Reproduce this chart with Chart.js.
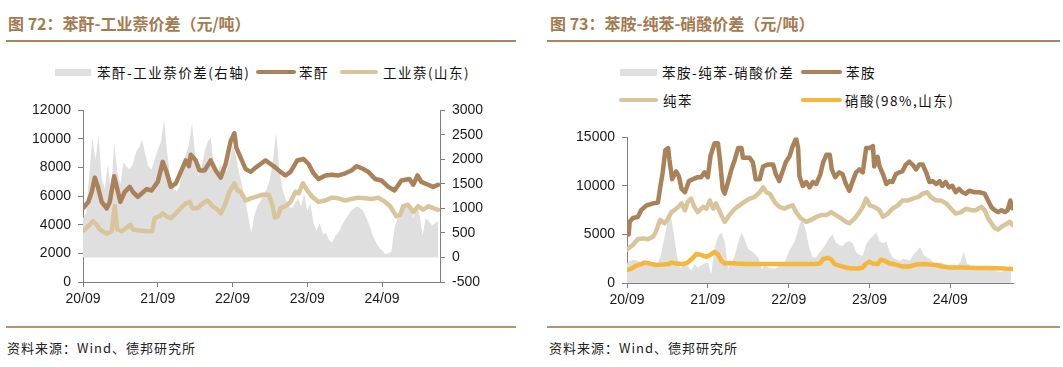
<!DOCTYPE html>
<html>
<head>
<meta charset="utf-8">
<script src="https://cdn.jsdelivr.net/npm/chart.js@4/dist/chart.umd.min.js"></script>
<style>
    body { margin: 0; width: 1063px; height: 367px; background: #fff; position: relative; overflow: hidden;
           font-family: "Noto Sans CJK SC", "Liberation Sans", sans-serif; }
    .titulo { position: absolute; top: 11px; font-size: 16px; font-weight: bold; color: #A47A50; white-space: nowrap; }
    .regla { position: absolute; height: 2px; background: #A88462; }
    .pie { position: absolute; top: 338px; font-size: 13px; letter-spacing: 1px; color: #222; white-space: nowrap; }
    .ley { position: absolute; font-size: 13.5px; letter-spacing: 1.5px; color: #111; white-space: nowrap; line-height: 18px; }
    .marca { position: absolute; }
    canvas { position: absolute; }
</style>
</head>
<body>
<div class="titulo" style="left:8px">图 72：苯酐-工业萘价差（元/吨）</div>
<div class="titulo" style="left:550px">图 73：苯胺-纯苯-硝酸价差（元/吨）</div>
<div class="regla" style="left:6px; width:510px; top:40px"></div>
<div class="regla" style="left:547px; width:513px; top:40px"></div>

<div id="leyenda"></div>

<canvas id="chartPA" width="520" height="225" style="left:0px; top:95px"></canvas>
<canvas id="chartAN" width="500" height="200" style="left:530px; top:122px"></canvas>

<div class="regla" style="left:6px; width:510px; top:326px; background:#B49273"></div>
<div class="regla" style="left:547px; width:513px; top:326px; background:#B49273"></div>
<div class="pie" style="left:7px">资料来源：Wind、德邦研究所</div>
<div class="pie" style="left:549px">资料来源：Wind、德邦研究所</div>

<script>
// 横轴: 自 2020/09 起的月数
var xTickMonths = [0, 12, 24, 36, 48];
var xTickLabels = ['20/09', '21/09', '22/09', '23/09', '24/09'];
var xMaxMonth = 57.3;

// ---------- 图72 ----------
var paLabel = '苯酐';
var nfLabel = '工业萘(山东)';
var spreadPALabel = '苯酐-工业萘价差(右轴)';

var paMonths = [0,0.85,1.4,1.9,2.4,3,3.8,4.3,5,5.5,6,6.7,7.5,8,8.8,10.2,11,12,12.8,13.4,14.1,14.9,15.7,16.5,17,
    17.3,18.1,18.7,19.5,20.5,21.3,22.1,22.9,23.7,24.3,24.6,25.3,26.1,26.9,27.7,28.5,29.3,30.1,30.9,31.7,32.5,33.3,
    34.4,35.4,36.2,37,37.8,38.9,39.9,41,42.1,43.1,43.9,45,45.8,46.9,47.9,49,50,51.1,52.4,53,53.7,54.3,55.4,56.2,57];
var paValues = [5150,5600,6300,7300,6650,5600,5150,5600,7400,6500,5600,6300,6650,6300,5950,6500,6400,7000,8400,7700,
    6650,6900,7700,8500,8100,8900,8500,7800,7800,8500,7800,7300,8250,9850,10400,9400,8700,7900,7700,8000,8250,8500,
    8250,8000,7700,7450,7700,8500,8600,8250,7600,7200,7450,7500,7450,7600,7800,8100,7900,7700,7200,7100,6650,6400,
    7100,7200,6800,7450,7000,6800,6650,6800];

var nfMonths = [0,0.85,1.6,2.2,2.7,3.8,4.6,5.1,5.5,6.2,7,7.6,8,9.1,10.2,11.1,11.5,12.3,12.8,13.4,14.1,14.9,15.7,16.5,
    17.1,17.6,18.4,19.2,20,20.8,21.6,22.1,22.7,23.5,24.3,24.8,25.3,26.1,26.9,27.7,28.8,29.8,30.4,30.8,31.3,31.7,32.5,
    33.3,34.1,34.6,35.3,36,36.8,37.8,38.9,39.9,41,42.1,43.1,44.2,45.3,46.3,47.4,48.5,49.3,50.3,50.9,51.4,52.2,53,53.8,
    54.6,55.4,56.2,57];
var nfValues = [3550,3900,4250,4000,3670,3370,3550,5300,3670,3550,3800,4000,3670,3600,3550,3550,4470,4600,4800,4600,
    4470,4800,5160,5500,5600,5160,5160,5500,5700,5300,5050,4800,5300,6300,6900,6400,6300,5700,5850,5960,6100,6100,
    5400,4500,4600,5160,5300,5600,6300,6200,6900,6400,5960,5600,5700,5900,5850,5700,5800,5900,5850,5800,5900,5600,
    5300,4600,4700,5300,5400,4900,5300,5050,5300,5160,5050];

// 价差 (右轴), 每半个月一个读数
var spreadPA = [800,900,1700,2450,2000,2480,1600,1400,1900,1300,
    2350,1750,1500,1950,1850,1800,1900,2150,2250,2400,
    2100,1850,1800,2000,2200,2350,2800,2150,1650,1400,
    1350,1450,1850,2100,2300,2750,2100,1650,1800,2150,
    2350,2450,1850,1650,1900,1800,1750,1950,2300,2100,
    1750,1500,1200,850,500,850,1050,1150,1300,1400,
    1600,2000,2550,1800,1400,1200,1050,1000,1100,1200,
    1050,1300,950,1100,700,550,700,480,500,350,
    300,450,500,650,750,850,950,1000,1050,1000,
    950,800,650,450,320,200,150,70,80,120,
    600,800,900,1050,1050,1100,800,1050,900,450,
    800,750,650,700,750];

// ---------- 图73 ----------
var anLabel = '苯胺';
var bzLabel = '纯苯';
var naLabel = '硝酸(98%,山东)';
var spreadANLabel = '苯胺-纯苯-硝酸价差';

var anMonths = [0.25,0.4,0.9,1.6,2.1,2.9,3.9,4.6,4.9,5.3,5.7,6.1,6.3,6.7,7.3,7.7,8.1,8.6,9.2,9.8,
    10.5,11,11.5,12,12.4,13,13.5,13.8,14.2,14.5,15,15.5,16,16.5,17,17.2,18.2,18.7,19.1,19.7,
    20.2,20.9,21.7,22.1,22.6,23.1,23.6,24.1,24.6,25.1,25.4,25.6,26.1,26.6,27.1,27.6,28.1,28.7,29.1,29.6,
    30.1,30.4,30.9,31.5,32,32.5,33,33.5,34,34.5,35,35.5,36,36.5,36.7,37.2,37.5,38,38.5,39,
    39.4,39.9,40.4,40.9,41.4,41.9,42.4,42.9,43.4,43.9,44.4,44.9,45.4,45.9,46.4,46.8,47.3,47.8,48.3,48.8,
    49.3,49.8,50.3,50.8,51.6,52.3,53.1,53.6,54.1,54.6,55.1,55.6,56.1,56.5,56.9,57.2];
var anValues = [5000,6300,6700,6800,7500,8000,8200,8300,9700,11400,13700,13900,12700,10700,11500,11000,9700,9350,10500,10700,
    10900,10900,11400,10900,13100,14400,14400,12700,9700,9200,10400,11700,12700,13900,13900,12900,12900,12400,10700,10700,
    12000,12200,12200,11200,10500,11500,12500,13000,14100,14900,13900,11000,10000,10400,9850,10400,10200,11200,12400,13200,
    13200,11700,10900,11400,11200,10200,9500,10500,11400,11700,11400,13900,13900,14100,12000,13000,12000,11200,10200,10500,
    10400,11200,11400,11500,12200,12500,12200,11700,12200,12200,11400,10400,10500,10200,10500,10000,10400,9850,10000,9350,
    9700,9350,9200,9500,9350,9350,9200,8500,7800,7500,7300,7500,7300,7500,8500,7700];

var bzMonths = [0,0.9,1.6,2.4,3.1,3.9,4.3,4.9,5.6,6.1,6.6,7.3,8.1,8.6,9,9.5,10,10.5,11.3,11.8,
    12.3,12.8,13.2,14,14.5,15.2,16,16.7,17.4,18.2,18.9,19.7,20.2,20.7,21.2,21.9,22.6,23.4,23.9,24.6,
    25.1,25.8,26.6,27.3,28.1,28.8,29.6,30.3,31,31.8,32.5,33,33.8,34.5,35,35.5,36,36.7,37.5,38,
    38.7,39.4,40.2,40.9,41.7,42.4,43.2,43.9,44.6,45.1,45.9,46.6,47.4,48.1,48.8,49.6,50.3,51.1,51.8,52.6,
    53.1,53.6,54.1,54.6,55.1,55.6,56.1,56.5,56.8,57.2];
var bzValues = [3450,3950,4500,4600,4500,4800,5300,6500,6150,6650,7300,7650,8200,7500,8350,8700,7850,7300,7850,7650,
    8500,7650,8200,7000,6300,7000,7650,8000,8350,8700,8850,9350,9850,9350,9200,8350,7850,7650,7850,8000,
    7300,6650,6300,6500,6800,7000,7000,7300,7000,6650,6300,6150,6650,7300,7850,8700,8000,7850,7500,6800,
    7150,7650,8000,8500,8500,8700,8850,9200,9350,8850,8500,8500,8200,7650,7150,7300,7650,7500,7500,7850,
    7500,6650,6150,5650,5500,5800,6000,6150,6300,6000];

var naMonths = [0,0.6,1.4,2.1,2.6,3.4,4.3,5.3,6.1,6.6,7.3,8.3,9,9.8,10.3,11,11.8,12.5,13,13.5,
    14,14.5,15.2,16.2,17.7,20.2,22.6,25.1,27.6,28.6,29.1,29.8,30.3,30.8,31.5,32.5,33.2,34.3,35,35.5,
    36,36.5,37.2,37.7,38.2,39,39.9,40.9,41.9,42.9,43.9,44.9,45.9,46.8,47.8,49.8,51.8,53.7,55.8,57.2];
var naValues = [1350,1450,1800,1950,2100,2000,1850,1900,1950,2100,2000,1950,2100,2600,3000,2900,2700,2950,3200,2950,
    2300,2000,2050,2000,1950,1950,1950,1950,1950,2000,2450,2600,2450,1950,1800,1600,1500,1500,1600,2000,
    2200,2000,1950,2400,2300,2000,1900,1700,1700,1900,1950,1900,1850,1700,1600,1600,1550,1550,1500,1450];

// 价差, 每半个月一个读数
var spreadAN = [2000,2300,2400,2300,2200,2100,2300,1900,2200,1900,
    2800,4500,6200,7000,4800,2500,1500,2100,1800,1300,
    1900,1600,1800,2000,2100,900,3600,4800,5200,4300,
    1500,2100,2800,4200,5200,4400,3500,3300,3000,2600,
    1500,1800,1600,1500,1500,1700,1900,2300,3200,3800,
    4500,5800,6600,5500,3800,2700,2600,3100,3500,4000,
    4600,5000,4200,3900,3800,4200,4300,4100,3200,2900,
    2800,4000,4500,4800,5200,4300,4100,4300,3200,2600,
    2400,2300,2500,2400,2300,2900,3300,3700,2900,2600,
    2500,2100,2000,2150,2000,1800,1700,1650,1800,2150,
    3200,2000,1800,1650,1550,1500,1600,1650,1450,1300,
    1200,1150,1250,1300,1200];

// 颜色
var cBrown = '#A9825A';
var cTan = '#D9C59C';
var cGray = '#DFDFDF';
var cYellow = '#F4B73C';

function puntos(meses, valores) {
    return valores.map(function (v, i) { return { x: meses[i], y: v }; });
}

function puntosMedioMes(valores) {
    return valores.map(function (v, i) { return { x: i * 0.5, y: v }; });
}

function lineaDS(label, meses, valores, color, orden) {
    return {
        label: label,
        data: puntos(meses, valores),
        borderColor: color,
        backgroundColor: color,
        borderWidth: 4.5,
        borderJoinStyle: 'round',
        borderCapStyle: 'round',
        pointRadius: 0,
        fill: false,
        order: orden,
        yAxisID: 'y'
    };
}

function areaDS(label, valores, eje) {
    return {
        label: label,
        data: puntosMedioMes(valores),
        borderWidth: 0,
        borderColor: cGray,
        backgroundColor: cGray,
        pointRadius: 0,
        fill: 'origin',
        order: 10,
        yAxisID: eje
    };
}

var tickFont = { family: '"Liberation Sans", Arial, sans-serif', size: 14 };

function ejeY(pos, min, max, step, ancho) {
    return {
        type: 'linear',
        position: pos,
        min: min,
        max: max,
        ticks: {
            stepSize: step, color: '#1a1a1a', font: tickFont, padding: 7,
            callback: function (v) { return String(v); } // sin separador de miles
        },
        grid: { drawOnChartArea: false, drawTicks: true, tickLength: 5, color: '#808080' },
        border: { color: '#808080', width: 1 },
        afterFit: function (s) { s.width = ancho; }
    };
}

function ejeX(alto) {
    return {
        type: 'linear',
        position: 'bottom',
        min: 0,
        max: xMaxMonth,
        afterBuildTicks: function (s) {
            s.ticks = xTickMonths.map(function (m) { return { value: m }; });
        },
        ticks: {
            color: '#1a1a1a', font: tickFont, padding: 4, maxRotation: 0, autoSkip: false,
            callback: function (v) { return xTickLabels[xTickMonths.indexOf(v)]; }
        },
        grid: { drawOnChartArea: false, drawTicks: true, tickLength: 5, color: '#808080' },
        border: { color: '#808080', width: 1 },
        afterFit: function (s) { s.height = alto; }
    };
}

function opciones(scales, padRight) {
    return {
        responsive: false,
        animation: false,
        devicePixelRatio: 1,
        layout: { padding: { top: 12, right: padRight, bottom: 0, left: 0 } },
        plugins: { legend: { display: false }, tooltip: { enabled: false } },
        scales: scales
    };
}

var chartPA = new Chart(document.getElementById('chartPA').getContext('2d'), {
    type: 'line',
    data: {
        datasets: [
            areaDS(spreadPALabel, spreadPA, 'y1'),
            lineaDS(paLabel, paMonths, paValues, cBrown, 1),
            lineaDS(nfLabel, nfMonths, nfValues, cTan, 2)
        ]
    },
    options: opciones({
        x: ejeX(38),
        y: ejeY('left', 0, 12000, 2000, 83),
        y1: ejeY('right', -500, 3000, 500, 80)
    }, 0)
});

var chartAN = new Chart(document.getElementById('chartAN').getContext('2d'), {
    type: 'line',
    data: {
        datasets: [
            areaDS(spreadANLabel, spreadAN, 'y'),
            lineaDS(anLabel, anMonths, anValues, cBrown, 2),
            lineaDS(bzLabel, bzMonths, bzValues, cTan, 3),
            lineaDS(naLabel, naMonths, naValues, cYellow, 1)
        ]
    },
    options: opciones({
        x: ejeX(39),
        y: ejeY('left', 0, 15000, 5000, 97)
    }, 17)
});

// 图例 (位置按原图排布)
function itemLeyenda(ds, x, y, anchoMarca, xTexto, esArea) {
    var alto = esArea ? 7 : 4;
    var html = '<div class="marca" style="left:' + x + 'px;top:' + (y - alto / 2) + 'px;width:' + anchoMarca +
        'px;height:' + alto + 'px;background:' + ds.backgroundColor + ';border-radius:' + (esArea ? 0 : 2) + 'px"></div>';
    html += '<div class="ley" style="left:' + xTexto + 'px;top:' + (y - 9) + 'px">' + ds.label + '</div>';
    return html;
}

var dPA = chartPA.data.datasets;
var dAN = chartAN.data.datasets;
document.getElementById('leyenda').innerHTML =
    itemLeyenda(dPA[0], 55, 72, 36, 97, true) +
    itemLeyenda(dPA[1], 256, 72, 40, 299, false) +
    itemLeyenda(dPA[2], 340, 72, 38, 383, false) +
    itemLeyenda(dAN[0], 620, 72, 37, 662, true) +
    itemLeyenda(dAN[1], 801, 72, 41, 846, false) +
    itemLeyenda(dAN[2], 619, 100, 39, 663, false) +
    itemLeyenda(dAN[3], 801, 100, 41, 845, false);
</script>
</body>
</html>
